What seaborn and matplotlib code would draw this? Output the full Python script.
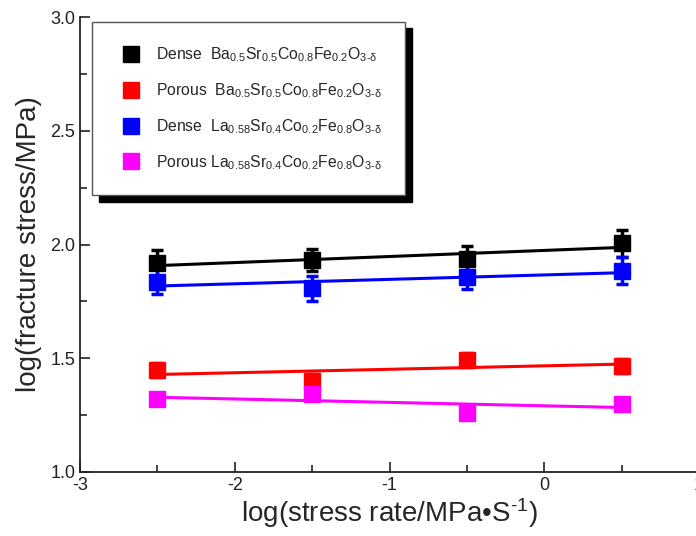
import numpy as np
import pandas as pd
import matplotlib
matplotlib.use("Agg")
import matplotlib.pyplot as plt
import seaborn as sns
from matplotlib.lines import Line2D
from matplotlib.ticker import MultipleLocator

# ---- data ----
stress_rate = [-2.5, -1.5, -0.5, 0.5]
dense_bscf = [1.917, 1.932, 1.935, 2.005]
dense_bscf_err = [0.06, 0.05, 0.06, 0.06]
porous_bscf = [1.447, 1.400, 1.492, 1.467]
porous_bscf_err = [0.03, 0.03, 0.03, 0.03]
dense_lscf = [1.837, 1.807, 1.858, 1.885]
dense_lscf_err = [0.056, 0.055, 0.055, 0.06]
porous_lscf = [1.321, 1.345, 1.258, 1.300]
porous_lscf_err = [0.02, 0.02, 0.02, 0.02]

labels = [
    r"Dense  Ba$_{0.5}$Sr$_{0.5}$Co$_{0.8}$Fe$_{0.2}$O$_{3\text{-}\delta}$",
    r"Porous  Ba$_{0.5}$Sr$_{0.5}$Co$_{0.8}$Fe$_{0.2}$O$_{3\text{-}\delta}$",
    r"Dense  La$_{0.58}$Sr$_{0.4}$Co$_{0.2}$Fe$_{0.8}$O$_{3\text{-}\delta}$",
    r"Porous La$_{0.58}$Sr$_{0.4}$Co$_{0.2}$Fe$_{0.8}$O$_{3\text{-}\delta}$",
]
colors = ["#000000", "#ff0000", "#0000ff", "#ff00ff"]
series = [(dense_bscf, dense_bscf_err), (porous_bscf, porous_bscf_err),
          (dense_lscf, dense_lscf_err), (porous_lscf, porous_lscf_err)]

sns.set_theme(style="white")
plt.rcParams["font.family"] = ["Liberation Sans", "DejaVu Sans"]
plt.rcParams["mathtext.fontset"] = "custom"
plt.rcParams["mathtext.rm"] = "Liberation Sans"
plt.rcParams["mathtext.it"] = "Liberation Sans:italic"
plt.rcParams["mathtext.default"] = "regular"
plt.rcParams["axes.unicode_minus"] = False

fig = plt.figure(figsize=(6.96, 5.36), dpi=100)
ax = fig.add_axes([80 / 696, 1 - 472 / 536, (699 - 80) / 696, (472 - 17) / 536])

for (vals, errs), c, lab in zip(series, colors, labels):
    df = pd.DataFrame({"x": stress_rate, "y": vals})
    sns.regplot(data=df, x="x", y="y", ax=ax, ci=None, scatter=False, truncate=True,
                line_kws=dict(color=c, lw=2.2, zorder=2))
    ax.errorbar(stress_rate, vals, yerr=errs, fmt="s", color=c, ms=11,
                elinewidth=2.5, capsize=4, capthick=2.5, zorder=3)

ax.set_xlim(-3, 1)
ax.set_ylim(1.0, 3.0)
ax.xaxis.set_major_locator(MultipleLocator(1))
ax.xaxis.set_minor_locator(MultipleLocator(0.5))
ax.yaxis.set_major_locator(MultipleLocator(0.5))
ax.yaxis.set_minor_locator(MultipleLocator(0.25))
ax.tick_params(which="both", direction="in", colors="#222222", labelsize=13,
               bottom=True, left=True, top=False, right=False)
ax.tick_params(which="major", length=7, width=1.2)
ax.tick_params(which="minor", length=5, width=1.2)
for s in ["top", "right"]:
    ax.spines[s].set_visible(False)
for s in ["left", "bottom"]:
    ax.spines[s].set_color("#222222")
    ax.spines[s].set_linewidth(1.3)

ax.set_xlabel("log(stress rate/MPa\u2022S$^{\\text{-}1}$)", fontsize=20, labelpad=2)
ax.set_ylabel("log(fracture stress/MPa)", fontsize=20, labelpad=6)

handles = [Line2D([], [], marker="s", ls="none", color=c, ms=11) for c in colors]
leg = ax.legend(handles, labels, loc="upper left", bbox_to_anchor=(0.019, 0.99),
                fontsize=11.3, frameon=True, fancybox=False, borderpad=1.5,
                labelspacing=1.1, handletextpad=0.6, borderaxespad=0,
                shadow={"color": "black", "alpha": 1, "ox": 5, "oy": -5})
leg.get_frame().set_edgecolor("#555555")
leg.get_frame().set_linewidth(1.0)
leg.get_frame().set_alpha(1)

fig.savefig("out.png", dpi=100)
